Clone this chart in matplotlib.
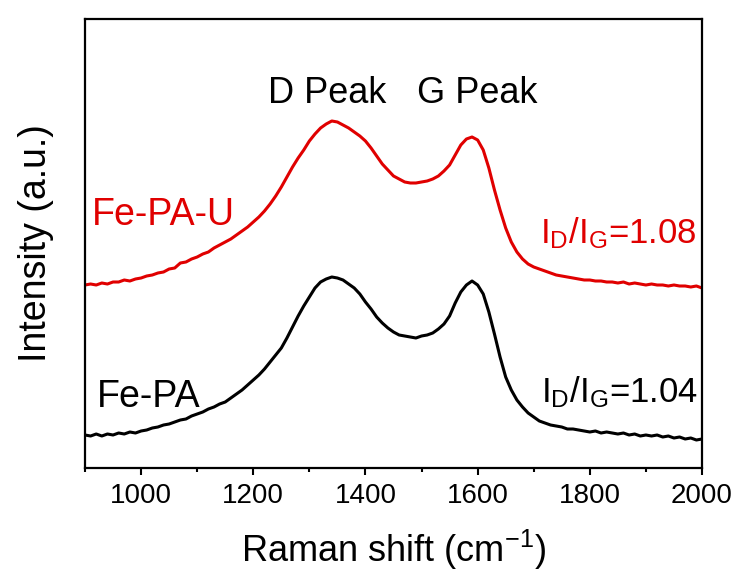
import matplotlib
matplotlib.use("Agg")
import matplotlib.pyplot as plt
import numpy as np

plt.rcParams['font.family'] = ['Liberation Sans', 'DejaVu Sans']
plt.rcParams['mathtext.default'] = 'regular'

# Raman shift (cm^-1), sampled every 10 cm^-1
raman_shift = list(range(900, 2001, 10))

fe_pa_u = [183, 184, 183, 185, 184, 186, 186, 188, 187, 189,
           190, 192, 193, 195, 196, 199, 200, 205, 206, 209,
           211, 214, 216, 220, 223, 226, 229, 233, 237, 241,
           246, 251, 257, 264, 272, 281, 291, 301, 310, 318,
           327, 334, 340, 344, 347, 346, 343, 340, 336, 332,
           327, 320, 312, 304, 298, 292, 289, 286, 285, 285,
           286, 287, 289, 292, 297, 303, 313, 323, 329, 331,
           328, 318, 300, 278, 258, 240, 226, 216, 209, 204,
           201, 199, 197, 195, 193, 192, 191, 190, 189, 188,
           188, 187, 187, 186, 186, 185, 186, 184, 185, 184,
           183, 184, 183, 183, 182, 183, 182, 182, 181, 182,
           180]

fe_pa = [33, 32, 34, 32, 34, 33, 35, 34, 36, 35,
         37, 38, 40, 41, 43, 44, 46, 48, 49, 52,
         54, 56, 59, 61, 64, 66, 70, 74, 78, 83,
         88, 93, 99, 106, 113, 120, 130, 141, 152, 162,
         171, 180, 186, 189, 191, 190, 188, 184, 180, 174,
         166, 159, 151, 145, 140, 136, 133, 132, 131, 130,
         132, 133, 135, 139, 144, 152, 165, 176, 183, 187,
         183, 174, 156, 134, 111, 91, 78, 68, 61, 55,
         51, 47, 45, 43, 42, 41, 39, 39, 38, 37,
         36, 37, 35, 36, 35, 34, 35, 33, 34, 32,
         33, 32, 33, 31, 32, 30, 31, 29, 30, 28,
         29]

series_labels = ['Fe-PA-U', 'Fe-PA']
ratio_labels = [r'I$_{D}$/I$_{G}$=1.08', r'I$_{D}$/I$_{G}$=1.04']
peak_labels = ['D Peak', 'G Peak']
peak_positions = [1331, 1600]
x_ticks = [1000, 1200, 1400, 1600, 1800, 2000]

red = '#e00000'

fig = plt.figure(figsize=(7.41, 5.78), dpi=100)
ax = fig.add_axes([85/741, 110/578, 617/741, 449/578])

ax.plot(raman_shift, fe_pa_u, color=red, lw=2.2)
ax.plot(raman_shift, fe_pa, color='black', lw=2.2)

ax.set_xlim(900, 2000)
ax.set_ylim(0, 449)
ax.set_xticks(x_ticks)
ax.set_xticks(list(range(900, 2001, 100)), minor=True)
ax.set_yticks([])
ax.tick_params(axis='x', which='major', direction='out', length=5, width=1.5,
               labelsize=20, pad=6, top=False)
ax.tick_params(axis='x', which='minor', direction='out', length=3, width=1.5, top=False)
for s in ax.spines.values():
    s.set_linewidth(1.6)

ax.set_xlabel('Raman shift (cm$^{-1}$)', fontsize=26, labelpad=13)
ax.set_ylabel('Intensity (a.u.)', fontsize=27, labelpad=22)

# annotations
ax.text(peak_positions[0], 365, peak_labels[0], fontsize=26, ha='center', va='baseline')
ax.text(peak_positions[1], 365, peak_labels[1], fontsize=26, ha='center', va='baseline')
ax.text(912, 243, series_labels[0], fontsize=27, color=red, ha='left', va='baseline')
ax.text(922, 61, series_labels[1], fontsize=27, color='black', ha='left', va='baseline')
ax.text(1990, 225, ratio_labels[0], fontsize=25, color=red, ha='right', va='baseline')
ax.text(1993, 66, ratio_labels[1], fontsize=25, color='black', ha='right', va='baseline')

fig.savefig('out.png', dpi=100)
